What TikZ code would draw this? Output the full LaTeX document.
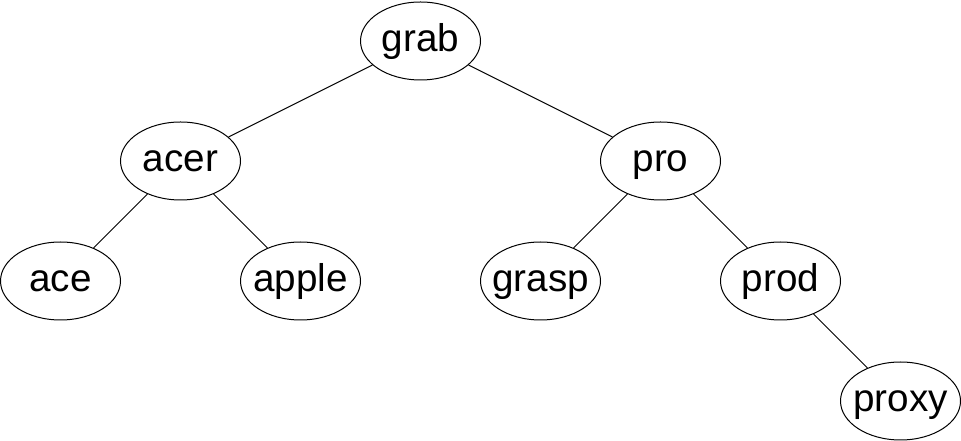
\documentclass[tikz,border=0pt]{standalone}
\usepackage{fontspec}
\setmainfont{Liberation Sans}
\usetikzlibrary{shapes.geometric}
\newcommand{\nodetext}[1]{\makebox[0pt]{\raisebox{-8.25pt}{#1}}}
\begin{document}
\begin{tikzpicture}[x=0.75pt,y=-0.75pt,
  treenode/.style={draw=black,ellipse,line width=0.75pt,minimum width=90pt,minimum height=58.5pt,inner sep=0pt,text height=0pt,text depth=0pt,text width=0pt,align=center,font=\fontsize{29pt}{34pt}\selectfont},
  edge/.style={draw=black,line width=0.75pt}]
\useasboundingbox (0,0) rectangle (961,441);
\node[treenode] (grab) at (420.5,41) {\nodetext{grab}};
\node[treenode] (acer) at (180.5,161) {\nodetext{acer}};
\node[treenode] (pro) at (660.5,161) {\nodetext{pro}};
\node[treenode] (ace) at (60.5,281) {\nodetext{ace}};
\node[treenode] (apple) at (300.5,281) {\nodetext{apple}};
\node[treenode] (grasp) at (540.5,281) {\nodetext{grasp}};
\node[treenode] (prod) at (780.5,281) {\nodetext{prod}};
\node[treenode] (proxy) at (900.5,401) {\nodetext{proxy}};
\draw[edge] (grab) -- (acer);
\draw[edge] (grab) -- (pro);
\draw[edge] (acer) -- (ace);
\draw[edge] (acer) -- (apple);
\draw[edge] (pro) -- (grasp);
\draw[edge] (pro) -- (prod);
\draw[edge] (prod) -- (proxy);
\end{tikzpicture}
\end{document}
